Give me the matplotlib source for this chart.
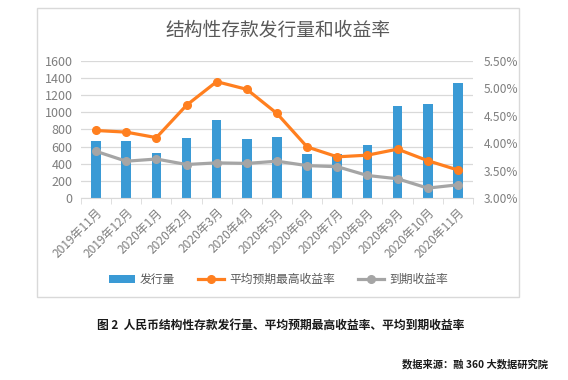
import numpy as np
import matplotlib
matplotlib.use("Agg")
import matplotlib.pyplot as plt
from matplotlib.patches import Rectangle
from matplotlib.ticker import FuncFormatter, MultipleLocator

plt.rcParams['font.family'] = ['Noto Sans CJK SC', 'DejaVu Sans']

# 数据
months = ["2019年11月", "2019年12月", "2020年1月", "2020年2月", "2020年3月", "2020年4月",
          "2020年5月", "2020年6月", "2020年7月", "2020年8月", "2020年9月", "2020年10月", "2020年11月"]
issuance = [670, 670, 527, 697, 910, 686, 713, 512, 516, 620, 1070, 1097, 1345]
max_yield = [4.23, 4.20, 4.10, 4.69, 5.12, 4.98, 4.54, 3.93, 3.75, 3.78, 3.89, 3.68, 3.51]
mature_yield = [3.85, 3.67, 3.71, 3.61, 3.64, 3.63, 3.67, 3.59, 3.57, 3.41, 3.35, 3.18, 3.24]

blue = '#3A9AD5'
orange = '#FF7F1F'
gray = '#A5A5A5'
tick_color = '#7F7F7F'

fig = plt.figure(figsize=(5.68, 3.80), dpi=100)
ax = fig.add_axes([0.1426, 0.479, 0.690, 0.361])
ax2 = ax.twinx()

x = np.arange(len(months))
ax.bar(x, issuance, width=0.32, color=blue, label="发行量", zorder=2)
ax2.plot(x, max_yield, color=orange, lw=2.3, marker='o', ms=5.5, label="平均预期最高收益率", zorder=3)
ax2.plot(x, mature_yield, color=gray, lw=2.3, marker='o', ms=5.5, label="到期收益率", zorder=3)

ax.set_xlim(-0.5, len(months) - 0.5)
ax.set_ylim(0, 1600)
ax.yaxis.set_major_locator(MultipleLocator(200))
ax2.set_ylim(3.0, 5.5)
ax2.yaxis.set_major_locator(MultipleLocator(0.5))
ax2.yaxis.set_major_formatter(FuncFormatter(lambda v, p: f"{v:.2f}%"))

ax.grid(axis='y', color='#D9D9D9', lw=0.9, zorder=0)
ax.set_axisbelow(True)
for a in (ax, ax2):
    for s in a.spines.values():
        s.set_visible(False)
ax.spines['bottom'].set_visible(True)
ax.spines['bottom'].set_color('#D9D9D9')

ax.set_xticks(x)
ax.set_xticklabels(months, rotation=45, ha='right', rotation_mode='anchor',
                   fontsize=8.6, color=tick_color)
ax.set_xticks(np.arange(-0.5, len(months), 1), minor=True)
ax.tick_params(axis='x', which='major', length=0, pad=6)
ax.tick_params(axis='x', which='minor', length=4, color='#D9D9D9')
ax.tick_params(axis='y', length=0, labelsize=9, labelcolor=tick_color, pad=6)
ax2.tick_params(axis='y', length=0, labelsize=8.6, labelcolor=tick_color, pad=8)

h1, l1 = ax.get_legend_handles_labels()
h2, l2 = ax2.get_legend_handles_labels()
fig.legend(h1 + h2, l1 + l2, loc='center', bbox_to_anchor=(0.49, 0.265), ncol=3,
           frameon=False, fontsize=8.5, labelcolor='#595959', handlelength=2.2,
           columnspacing=2.0, handletextpad=0.4)

fig.text(0.49, 0.921, "结构性存款发行量和收益率", ha='center', va='center',
         fontsize=13.5, color='#595959')

# 外框
fig.patches.append(Rectangle((0.066, 0.2184), 0.847, 0.7605, transform=fig.transFigure,
                             fill=False, edgecolor='#D9D9D9', lw=1.0))

fig.text(0.171, 0.145, "图 2  人民币结构性存款发行量、平均预期最高收益率、平均到期收益率",
         ha='left', va='center', fontsize=8.5, fontweight='bold', color='#1A1A1A')
fig.text(0.965, 0.04, "数据来源：融 360 大数据研究院", ha='right', va='center',
         fontsize=7.4, fontweight='bold', color='#1A1A1A')

fig.savefig("out.png", dpi=100)
